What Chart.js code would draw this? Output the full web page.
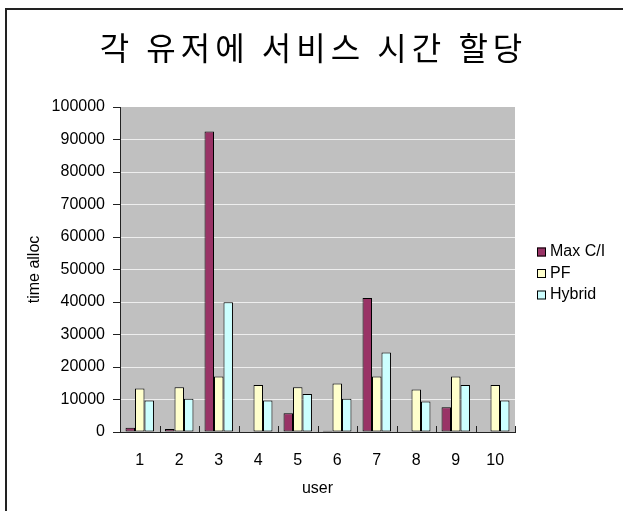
<!DOCTYPE html>
<html>
<head>
<meta charset="utf-8">
<script src="https://cdn.jsdelivr.net/npm/chart.js@4"></script>
<style>
  body { margin: 0; background: #fff; }
  #frame { position: absolute; left: 5px; top: 8px; width: 1000px; height: 1000px;
           border-left: 2px solid #222; border-top: 2px solid #222; }
  #wrap { position: absolute; left: 0; top: 0; width: 623px; height: 511px; }
</style>
</head>
<body>
<div id="frame"></div>
<div id="wrap"><canvas id="chart" width="623" height="511"></canvas></div>
<script>
var chartTitle = "각 유저에 서비스 시간 할당";
var users = ["1", "2", "3", "4", "5", "6", "7", "8", "9", "10"];
var maxCI = [1300, 900, 92500, 0, 5800, 400, 41200, 0, 7600, 0];
var pf = [13400, 13800, 17100, 14500, 13800, 14900, 17100, 13100, 17100, 14500];
var hybrid = [9700, 10200, 39900, 9700, 11700, 10200, 24500, 9400, 14500, 9700];
var yTicks = [0, 10000, 20000, 30000, 40000, 50000, 60000, 70000, 80000, 90000, 100000];

Chart.defaults.font.family = "'Liberation Sans', Arial, sans-serif";
Chart.defaults.color = "#000";

// grey plot background
var plotBg = {
    id: "plotBg",
    beforeDraw: function(chart) {
        var a = chart.chartArea, ctx = chart.ctx;
        ctx.save();
        ctx.fillStyle = "#c0c0c0";
        ctx.fillRect(a.left, a.top, a.right - a.left, a.bottom - a.top);
        ctx.restore();
    }
};

// title, drawn with a bit of letter spacing like the original
var wideTitle = {
    id: "wideTitle",
    afterDraw: function(chart) {
        var ctx = chart.ctx;
        ctx.save();
        ctx.font = "32px 'Noto Sans CJK KR', sans-serif";
        ctx.letterSpacing = "5px";
        ctx.fillStyle = "#000";
        ctx.textAlign = "center";
        ctx.textBaseline = "middle";
        ctx.fillText(chartTitle, 311 + 2.5, 48);
        ctx.restore();
    }
};

// small category tick marks pointing up into the plot
var innerTicks = {
    id: "innerTicks",
    afterDraw: function(chart) {
        var x = chart.scales.x, ctx = chart.ctx, b = chart.chartArea.bottom;
        ctx.save();
        ctx.strokeStyle = "#222";
        ctx.lineWidth = 1;
        for (var i = 0; i <= users.length; i++) {
            var px = Math.round(x.getPixelForValue(i - 0.5)) + 0.5;
            ctx.beginPath();
            ctx.moveTo(px, b - 6);
            ctx.lineTo(px, b);
            ctx.stroke();
        }
        ctx.restore();
    }
};

// legend on the right
var sideLegend = {
    id: "sideLegend",
    afterDraw: function(chart) {
        var ctx = chart.ctx;
        var rows = [252, 273.5, 295];
        ctx.save();
        ctx.font = "16px 'Liberation Sans', Arial, sans-serif";
        ctx.textBaseline = "middle";
        ctx.textAlign = "left";
        chart.data.datasets.forEach(function(ds, i) {
            var y = rows[i];
            ctx.fillStyle = ds.backgroundColor;
            ctx.fillRect(537, y - 4.5, 9, 9);
            ctx.strokeStyle = "#000";
            ctx.lineWidth = 1;
            ctx.strokeRect(537.5, y - 4, 8, 8);
            ctx.fillStyle = "#000";
            ctx.fillText(ds.label, 550, y);
        });
        ctx.restore();
    }
};

new Chart(document.getElementById("chart"), {
    type: "bar",
    data: {
        labels: users,
        datasets: [
            { label: "Max C/I", data: maxCI, backgroundColor: "#993366", borderColor: "#000", borderWidth: 1 },
            { label: "PF", data: pf, backgroundColor: "#ffffcc", borderColor: "#000", borderWidth: 1 },
            { label: "Hybrid", data: hybrid, backgroundColor: "#ccffff", borderColor: "#000", borderWidth: 1 }
        ]
    },
    options: {
        responsive: false,
        animation: false,
        layout: { padding: { left: 0, right: 108, top: 107, bottom: 0 } },
        datasets: { bar: { categoryPercentage: 0.72, barPercentage: 1.0, borderSkipped: false } },
        plugins: {
            legend: { display: false },
            tooltip: { enabled: false },
            title: { display: false }
        },
        scales: {
            x: {
                grid: { display: false, drawTicks: false },
                border: { color: "#222", width: 1 },
                ticks: { font: { size: 16 }, padding: 19, maxRotation: 0 },
                title: { display: true, text: "user", font: { size: 16 }, padding: { top: 13, bottom: 13 } },
                afterFit: function(s) { s.height = 79; }
            },
            y: {
                min: 0,
                max: 100000,
                afterBuildTicks: function(s) { s.ticks = yTicks.map(function(v) { return { value: v }; }); },
                grid: {
                    color: function(c) {
                        if (c.tick && c.tick.value === 100000) return "rgba(0,0,0,0)";
                        if (c.tick && c.tick.value === 0) return "#222";
                        return "#eeeeee";
                    },
                    tickColor: "#222",
                    tickLength: 7
                },
                border: { color: "#222", width: 1 },
                ticks: {
                    font: { size: 16 },
                    padding: 8,
                    callback: function(v) { return String(v); }
                },
                title: { display: true, text: "time alloc", font: { size: 16 }, padding: { top: 25, bottom: 25 } },
                afterFit: function(s) { s.width = 120; }
            }
        }
    },
    plugins: [plotBg, wideTitle, innerTicks, sideLegend]
});
</script>
</body>
</html>
